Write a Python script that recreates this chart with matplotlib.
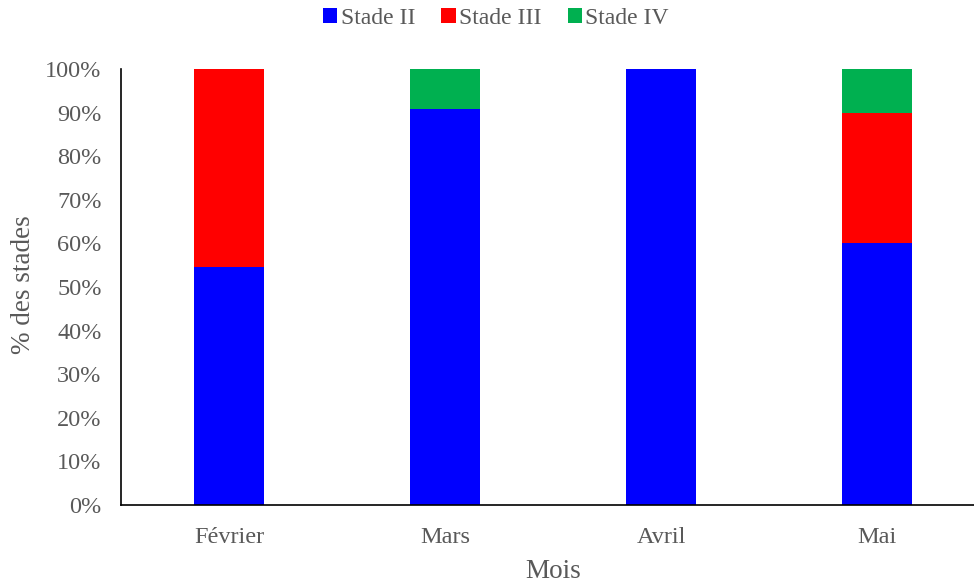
import matplotlib
matplotlib.use("Agg")
import matplotlib.pyplot as plt
from matplotlib.ticker import PercentFormatter
import numpy as np

months = ["Février", "Mars", "Avril", "Mai"]
stade_ii = [54.5, 90.9, 100.0, 60.0]
stade_iii = [45.5, 0.0, 0.0, 30.0]
stade_iv = [0.0, 9.1, 0.0, 10.0]
series_names = ["Stade II", "Stade III", "Stade IV"]
colors = ["#0000FF", "#FF0000", "#00B050"]

plt.rcParams['font.family'] = ['Liberation Serif', 'DejaVu Serif']
txt = "#595959"

fig = plt.figure(figsize=(9.74, 5.85), dpi=100)
ax = fig.add_axes([121/974, 1-505/585, 864/974, 436/585])

x = np.arange(len(months))
w = 0.324
b = np.zeros(len(months))
for vals, name, c in zip([stade_ii, stade_iii, stade_iv], series_names, colors):
    ax.bar(x, vals, w, bottom=b, color=c, label=name, zorder=2)
    b = b + np.array(vals)

ax.set_xlim(-0.5, len(months) - 0.5)
ax.set_ylim(0, 100)
ax.set_yticks(np.arange(0, 101, 10))
ax.yaxis.set_major_formatter(PercentFormatter(decimals=0))
ax.set_xticks(x)
ax.set_xticklabels(months)
ax.tick_params(axis='both', length=0, labelsize=17.5, colors=txt)
ax.tick_params(axis='y', pad=14)
ax.tick_params(axis='x', pad=16)
for s in ["top", "right"]:
    ax.spines[s].set_visible(False)
for s in ["left", "bottom"]:
    ax.spines[s].set_color("black")
    ax.spines[s].set_linewidth(1.2)

fig.text(24/974, 1-285/585, "% des stades", fontsize=19.5, color=txt,
         rotation=90, ha="center", va="center")
fig.text(553/974, 1-571/585, "Mois", fontsize=19.5, color=txt,
         ha="center", va="center")

fig.legend(loc="center", bbox_to_anchor=(496/974, 1-18/585), ncol=3, frameon=False,
           fontsize=17, labelcolor=txt, handlelength=0.6, handleheight=0.6,
           handletextpad=0.15, columnspacing=1.1)

fig.savefig("out.png", dpi=100)
